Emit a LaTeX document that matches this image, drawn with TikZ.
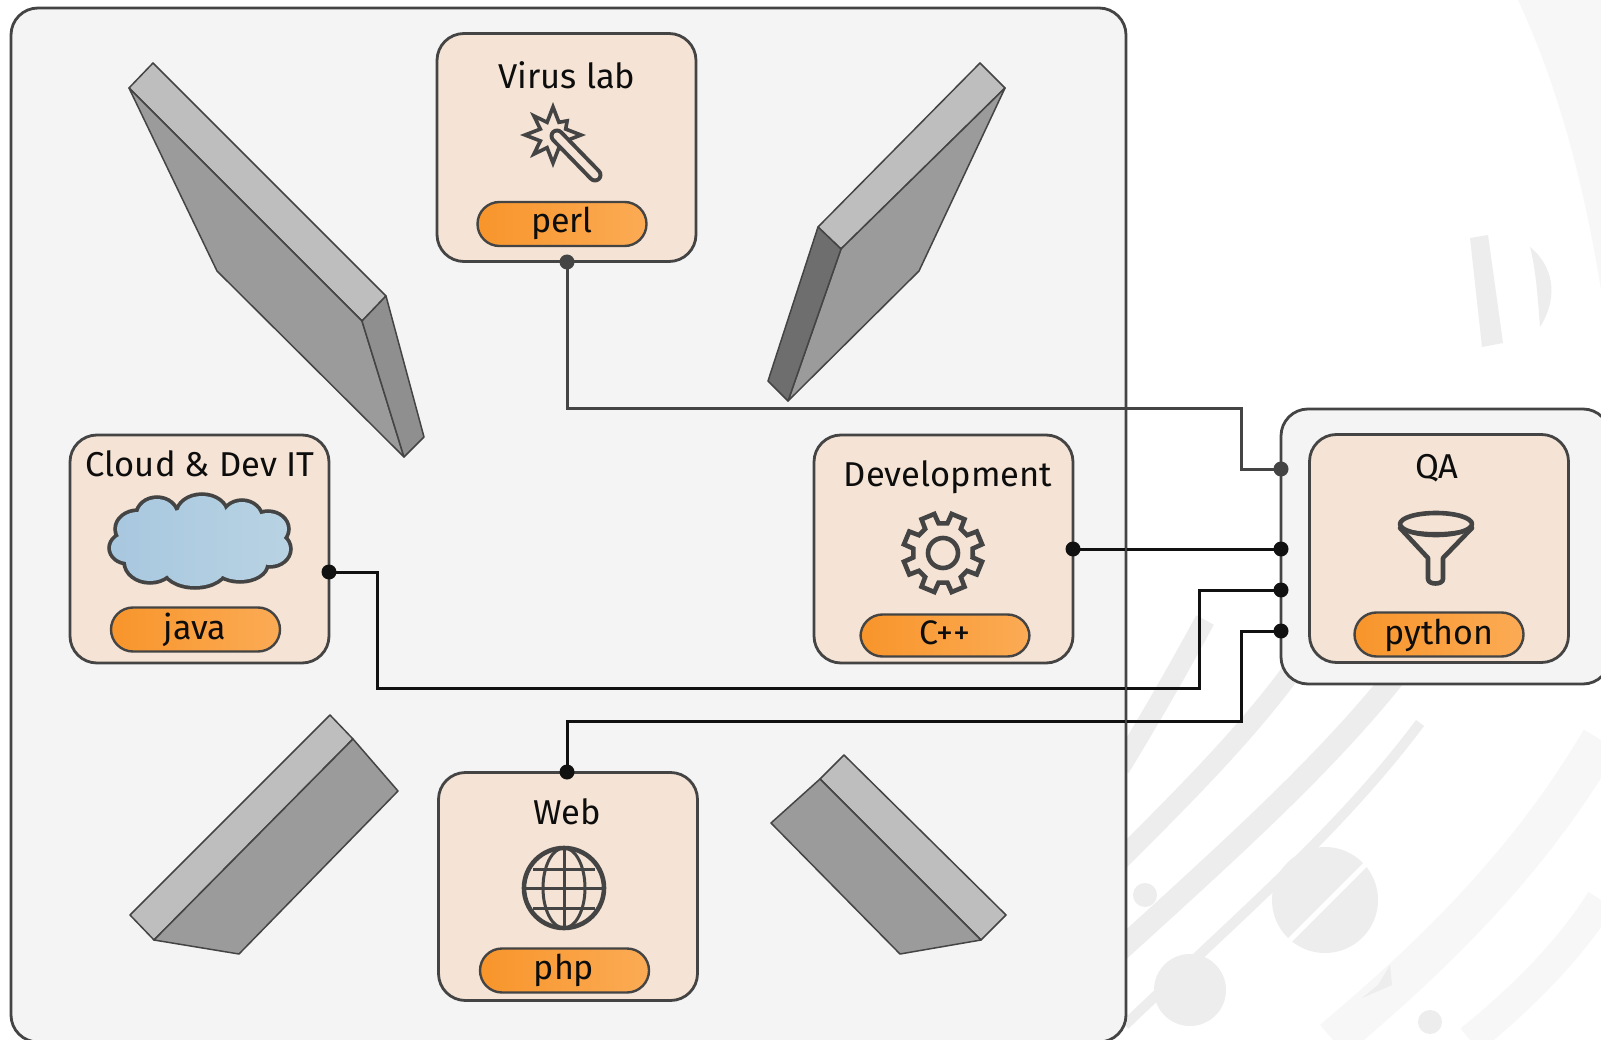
\documentclass[tikz,border=0pt]{standalone}
\usepackage{fontspec}
\setmainfont{Fira Sans}
\definecolor{panelfill}{HTML}{F4F4F4}
\definecolor{ink}{HTML}{444444}
\definecolor{boxfill}{HTML}{F5E4D5}
\definecolor{orangeA}{HTML}{F8952B}
\definecolor{orangeB}{HTML}{FBAB55}
\definecolor{slabLight}{HTML}{BEBEBE}
\definecolor{slabMid}{HTML}{9B9B9B}
\definecolor{slabDark}{HTML}{6E6E6E}
\definecolor{slabSide}{HTML}{8F8F8F}
\definecolor{wire}{HTML}{111111}
\definecolor{wmark}{HTML}{EDEDED}
\definecolor{wmarkpale}{HTML}{F7F7F7}
\definecolor{cloudA}{HTML}{A7C7DF}
\definecolor{cloudB}{HTML}{B9D3E3}
\newcommand{\cloudblobs}{
  (138,528) ellipse[x radius=21,y radius=17]
  (157,514) ellipse[x radius=19,y radius=16]
  (202,513) ellipse[x radius=24,y radius=18]
  (242,518) ellipse[x radius=19,y radius=17]
  (268,528) ellipse[x radius=19,y radius=16]
  (270,548) ellipse[x radius=19,y radius=16]
  (240,563) ellipse[x radius=26,y radius=16]
  (195,566) ellipse[x radius=31,y radius=19]
  (150,561) ellipse[x radius=24,y radius=19]
  (128,547) ellipse[x radius=17,y radius=14]
  (200,540) ellipse[x radius=62,y radius=33]
}
\tikzset{
  x=1pt,y=-1pt,
  panel/.style={draw=ink,line width=2.8pt,fill=panelfill,rounded corners=27pt},
  unitbox/.style={rectangle,draw=ink,line width=2.8pt,fill=boxfill,rounded corners=27pt,minimum width=259pt,minimum height=228pt,inner sep=0pt},
  pill/.style={rectangle,draw=ink,line width=2.4pt,left color=orangeA,right color=orangeB,rounded corners=22pt,minimum width=169pt,minimum height=44pt,inner sep=0pt},
  title/.style={anchor=base,inner sep=0pt,font=\fontsize{34.5}{37}\selectfont,text=black!95},
  lang/.style={anchor=base,inner sep=0pt,font=\fontsize{34}{37}\selectfont,text=black!95},
  portdark/.style={circle,fill=ink,minimum size=15pt,inner sep=0pt},
  portblack/.style={circle,fill=wire,minimum size=15pt,inner sep=0pt},
  wirelight/.style={draw=ink,line width=3pt},
  wireblack/.style={draw=wire,line width=3pt},
  slab/.style={draw=ink,line width=1.5pt,line join=round},
  icon/.style={draw=ink,line width=4.6pt,line join=round,line cap=round},
  iconthin/.style={draw=ink,line width=3pt},
  wm/.style={draw=wmark,line cap=butt},
  wmp/.style={draw=wmarkpale,line cap=butt},
}
\begin{document}
\begin{tikzpicture}
\clip (0,0) rectangle (1601,1040);
\fill[white] (0,0) rectangle (1601,1040);
% faint backdrop
\fill[wmarkpale] (1518,0) .. controls (1560,90) and (1585,190) .. (1601,290) -- (1601,0) -- cycle;
\fill[wmark] (1470,238) -- (1488,235) -- (1503,343) -- (1482,347) -- cycle;
\fill[wmark] (1530,247) .. controls (1552,265) and (1560,295) .. (1540,327) .. controls (1538,300) and (1536,270) .. (1530,247) -- cycle;
\draw[wm,line width=20pt] (1120,768) .. controls (1140,735) and (1170,685) .. (1205,620);
\draw[wm,line width=20pt] (1120,860) .. controls (1190,790) and (1250,730) .. (1300,660);
\draw[wm,line width=22pt] (1120,950) .. controls (1230,850) and (1330,760) .. (1400,670);
\draw[wm,line width=10pt] (1125,1025) .. controls (1240,915) and (1340,830) .. (1420,723);
\draw[wmp,line width=40pt] (1333,1040) .. controls (1440,950) and (1530,860) .. (1601,740);
\draw[wmp,line width=30pt] (1470,1040) .. controls (1520,1000) and (1570,950) .. (1601,900);
\fill[wmark] (1145,895) circle[radius=12];
\fill[wmark] (1190,990) circle[radius=36];
\fill[wmark] (1325,900) circle[radius=53];
\draw[white,line width=5pt] (1240,990) -- (1400,830);
\fill[wmark] (1378,985) -- (1390,965) -- (1392,985) -- (1362,998) -- cycle;
\fill[wmark] (1430,1022) circle[radius=12];
% main panel
\draw[panel] (11,8) rectangle (1126,1042);
% slabs
\draw[slab,fill=slabLight] (153,63) -- (129,88) -- (362,321) -- (386,296) -- cycle;
\draw[slab,fill=slabMid] (129,88) -- (362,321) -- (404,457) -- (217,271) -- cycle;
\draw[slab,fill=slabSide] (362,321) -- (386,296) -- (424,437) -- (404,457) -- cycle;
\draw[slab,fill=slabLight] (980,63) -- (1005,88) -- (841,249) -- (818,227) -- cycle;
\draw[slab,fill=slabMid] (1005,88) -- (919,271) -- (788,401) -- (841,249) -- cycle;
\draw[slab,fill=slabDark] (818,227) -- (841,249) -- (788,401) -- (768,381) -- cycle;
\draw[slab,fill=slabLight] (330,715) -- (353,739) -- (154,940) -- (130,915) -- cycle;
\draw[slab,fill=slabMid] (353,739) -- (398,791) -- (239,954) -- (154,940) -- cycle;
\draw[slab,fill=slabLight] (844,755) -- (1006,915) -- (981,940) -- (820,779) -- cycle;
\draw[slab,fill=slabMid] (820,779) -- (981,940) -- (900,954) -- (771,823) -- cycle;
% QA panel
\draw[panel] (1281,409) rectangle (1610,684);
\begin{scope}[yshift=-1pt]
% unit boxes
\node[unitbox] (virus) at (566.5,146.5) {};
\node[unitbox] (cloud) at (199.5,548) {};
\node[unitbox] (dev) at (943.5,548) {};
\node[unitbox] (qa) at (1439,547.5) {};
\node[unitbox] (web) at (568,885.5) {};
% pills
\node[pill] (perl) at (562,223) {};
\node[pill] (java) at (195.5,628.5) {};
\node[pill,minimum height=42pt] (cpp) at (945,634.5) {};
\node[pill] (python) at (1439,633.5) {};
\node[pill] (php) at (564.5,969.5) {};
% texts
\node[title] (tvirus) at (567,88) {Virus lab};
\node[title] (tcloud) at (200,475) {Cloud \& Dev IT};
\node[title] (tdev) at (948,485) {Development};
\node[title] (tqa) at (1437,477) {QA};
\node[title] (tweb) at (567,823) {Web};
\node[lang] (lperl) at (562,232) {perl};
\node[lang] (ljava) at (195,638) {java};
\node[lang] (lcpp) at (945,643) {C++};
\node[lang] (lpython) at (1439,643) {python};
\node[lang] (lphp) at (564,978) {php};
% wand icon
\begin{scope}[shift={(553,134)}]
\draw[icon,line width=3.6pt,miter limit=6,line cap=butt,line join=miter]
  (90:28) -- (65:14) -- (45:27) -- (25:14) -- (0:28) -- (-25:14) -- (-45:20) -- (-65:14) -- (-90:28) -- (-115:14) -- (-135:27) -- (-155:14) -- (180:28) -- (155:14) -- (135:27) -- (115:14) -- cycle;
\end{scope}
\draw[ink,line width=15pt,line cap=round] (557,135) -- (595,174);
\draw[boxfill,line width=7pt,line cap=round] (557,135) -- (595,174);
% cloud
\draw[ink,line width=7.5pt] \cloudblobs;
\begin{scope}
\clip \cloudblobs;
\shade[left color=cloudA,right color=cloudB] (100,480) rectangle (300,600);
\end{scope}
% gear
\begin{scope}[shift={(943,552)}]
\draw[icon,line cap=butt,line join=miter]
  (8:30)
  \foreach \t in {22.5,67.5,...,337.5}{
    -- (\t-14:30) -- (\t-10:40) -- (\t+10:40) -- (\t+14:30)
  } -- cycle;
\draw[icon] (0,0) circle[radius=15];
\end{scope}
% funnel
\draw[icon] (1400,527) -- (1428,557) -- (1428,578) .. controls (1428,584) and (1443,584) .. (1443,578) -- (1443,557) -- (1472,527);
\draw[icon] (1436,523) ellipse[x radius=36,y radius=11];
\draw[iconthin] (1402,528) .. controls (1420,534) and (1452,534) .. (1470,528);
% globe
\draw[icon] (564,887) circle[radius=40];
\draw[iconthin] (564,847) -- (564,927);
\draw[iconthin] (564,887) ellipse[x radius=21,y radius=40];
\draw[iconthin] (524,887) -- (604,887);
\draw[iconthin] (533,868) -- (595,868);
\draw[iconthin] (533,907) -- (595,907);
% ports
\node[portdark] (pvirus) at (567,261) {};
\node[portdark] (pqa1) at (1281,468) {};
\node[portblack] (pdev) at (1073,548) {};
\node[portblack] (pqa2) at (1281,548) {};
\node[portblack] (pcloud) at (329,571) {};
\node[portblack] (pqa3) at (1281,589) {};
\node[portblack] (pweb) at (567,771) {};
\node[portblack] (pqa4) at (1281,630) {};
% connectors
\draw[wirelight] (pvirus.center) |- (1241,408) |- (pqa1.center);
\draw[wireblack] (pdev.center) -- (pqa2.center);
\draw[wireblack] (pcloud.center) -| (377,687) -| (1199,589) -- (pqa3.center);
\draw[wireblack] (pweb.center) |- (1241,720) |- (pqa4.center);
\end{scope}
% main panel edge passes over the wires
\draw[ink,line width=2.8pt] (1126,35) -- (1126,1015);
\end{tikzpicture}
\end{document}
